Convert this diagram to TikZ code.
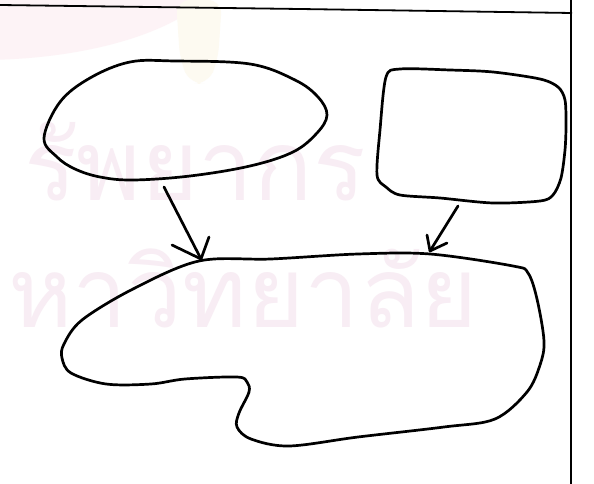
\documentclass[tikz,border=0pt]{standalone}
\usepackage{fontspec}
\newfontfamily\thaifont[Script=Thai]{Loma}
\definecolor{wmpink}{RGB}{248,237,244}
\definecolor{wmglow}{RGB}{253,243,246}
\definecolor{wmgold}{RGB}{253,250,241}
\tikzset{
  sketch/.style={line width=2.7pt, line join=round, line cap=round, black},
  frame/.style={line width=1.8pt, black},
  wmtext/.style={text=wmpink, inner sep=0pt, font=\thaifont\fontsize{98}{98}\selectfont}
}
\begin{document}
\begin{tikzpicture}[x=1pt,y=-1pt]
\useasboundingbox (0,0) rectangle (594,484);
\fill[white] (0,0) rectangle (594,484);
% faint watermark
\fill[wmglow] (-20,-40) ellipse [x radius=245, y radius=100];
\fill[wmgold, rounded corners=14pt] (176,0) -- (222,0) -- (218,60) -- (208,84) -- (190,84) -- (180,60) -- cycle;
\node[wmtext, anchor=base west] (wm1) at (24,200) {รัพยากร};
\node[wmtext, anchor=base west] (wm2) at (8,327) {หาวิทยาลัย};
% frame
\coordinate (tl) at (0,5);
\coordinate (tm) at (300,9);
\coordinate (tr) at (572,13);
\coordinate (rt) at (571,0);
\coordinate (rb) at (571,484);
\draw[frame] (tl) -- (tm) -- (tr);
\draw[frame] (rt) -- (rb);
% ellipse (top left)
\draw[sketch] plot[smooth cycle, tension=0.6] coordinates {
 (44,138) (57,157) (75,169) (100,177) (133,180) (190,176) (250,166)
 (293,152) (317,133) (327,115) (318,97) (295,80) (250,64) (175,61)
 (130,62) (90,78) (60,102)};
% rounded box (top right)
\draw[sketch] plot[smooth cycle, tension=0.5] coordinates {
 (386,77) (400,69) (450,70) (493,72) (540,79) (558,87) (565,100)
 (566,125) (565,150) (561,178) (553,195) (540,201) (493,203) (440,198)
 (400,195) (386,187) (377,175) (380,130)};
% blob (bottom)
\draw[sketch] plot[smooth cycle, tension=0.55] coordinates {
 (199,261) (271,259) (358,254) (430,254) (513,266) (528,273) (537,299)
 (544,341) (540,365) (527,392) (495,419) (444,427) (358,437) (289,446)
 (251,439) (237,427) (239,413) (249,392) (247,382) (237,377) (185,379)
 (151,384) (106,384) (71,373) (62,358) (64,344) (82,320) (133,289)};
% left arrow
\coordinate (a1s) at (164,187);
\coordinate (a1t) at (201,259);
\coordinate (a1b1) at (172,245);
\coordinate (a1b2) at (209,237);
\draw[sketch] (a1s) -- (a1t);
\draw[sketch] (a1b1) -- (a1t) -- (a1b2);
% right arrow
\coordinate (a2s) at (458,206);
\coordinate (a2t) at (430,251);
\coordinate (a2b1) at (427,235);
\coordinate (a2b2) at (447,243);
\draw[sketch] (a2s) -- (a2t);
\draw[sketch] (a2b1) -- (a2t) -- (a2b2);
\end{tikzpicture}
\end{document}
